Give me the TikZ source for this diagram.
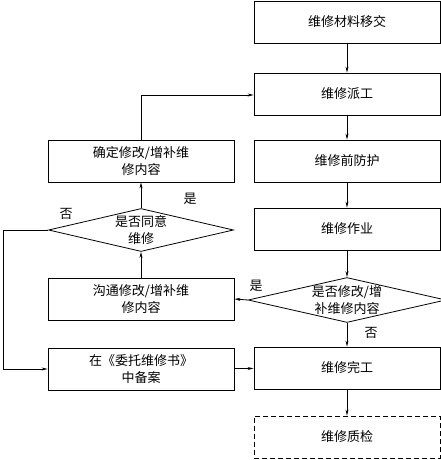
\documentclass[tikz,border=0pt]{standalone}
\usepackage{fontspec}
\setmainfont{Noto Sans CJK SC}
\usetikzlibrary{shapes.geometric,arrows.meta}
\begin{document}
\begin{tikzpicture}[x=1pt,y=-1pt,
  font=\fontsize{13}{17}\selectfont,
  box/.style={draw,line width=0.8pt,minimum width=186pt,minimum height=42pt,inner sep=0pt,align=center},
  dbox/.style={box,dash pattern=on 5pt off 3pt},
  dia/.style={draw,line width=0.8pt,diamond,aspect=4.4,minimum width=185pt,minimum height=43pt,inner sep=0pt,align=center},
  arr/.style={-{Stealth[length=6pt,width=3pt]},line width=0.8pt},
  lab/.style={inner sep=0pt}]
\useasboundingbox (0,0) rectangle (441,460);
% right column
\node[box] (a) at (347,22) {维修材料移交};
\node[box] (b) at (347,94) {维修派工};
\node[box] (c) at (347,161) {维修前防护};
\node[box] (d) at (347,229) {维修作业};
\node[dia] (e) at (347,300) {是否修改/增\\补维修内容};
\node[box] (f) at (347,368) {维修完工};
\node[dbox] (g) at (347,437) {维修质检};
% left column
\node[box] (h) at (141,161) {确定修改/增补维\\修内容};
\node[dia] (i) at (141,230) {是否同意\\维修};
\node[box] (j) at (141,299) {沟通修改/增补维\\修内容};
\node[box] (k) at (141,369) {在《委托维修书》\\中备案};
\coordinate (c1) at (3,230);
\coordinate (c2) at (3,369);
\coordinate (c3) at (141,95);
% connectors
\draw[arr] (a) -- (b);
\draw[arr] (b) -- (c);
\draw[arr] (c) -- (d);
\draw[arr] (d) -- (e);
\draw[arr] (e) -- (f);
\draw[arr] (f) -- (g);
\draw[arr] (e.west) -- (j.east);
\draw[arr] (j) -- (i);
\draw[arr] (i) -- (h);
\draw[arr] (h.north) -- (c3) -- (c3 -| b.west);
\draw[arr] (i.west) -- (c1) -- (c2) -- (k.west);
\draw[arr] (k) -- (f);
% labels
\node[lab] (l1) at (256,286) {是};
\node[lab] (l2) at (371,333) {否};
\node[lab] (l3) at (190,199) {是};
\node[lab] (l4) at (66,214) {否};
\end{tikzpicture}
\end{document}
